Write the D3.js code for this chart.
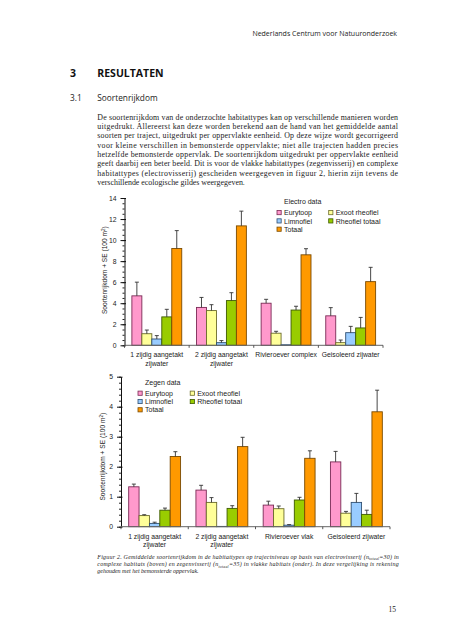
<!DOCTYPE html>
<html><head><meta charset="utf-8">
<script src="https://cdn.jsdelivr.net/npm/d3@7"></script>
<style>html,body{margin:0;padding:0;background:#fff;}svg{display:block;}</style>
</head><body>
<script>
// ---------- DATA ----------
const series = ["Eurytoop", "Exoot rheofiel", "Limnofiel", "Rheofiel totaal", "Totaal"];
const categoriesElectro = [["1 zijdig aangetakt", "zijwater"], ["2 zijdig aangetakt", "zijwater"], ["Rivieroever complex"], ["Geisoleerd zijwater"]];
const categoriesZegen = [["1 zijdig aangetakt", "zijwater"], ["2 zijdig aangetakt", "zijwater"], ["Rivieroever vlak"], ["Geisoleerd zijwater"]];
const electroMean = [
  [4.7, 3.6, 4.0, 2.8],
  [1.1, 3.3, 1.15, 0.25],
  [0.6, 0.25, 0.05, 1.2],
  [2.7, 4.25, 3.35, 1.65],
  [9.2, 11.35, 8.6, 6.05]
];
const electroSE = [
  [1.3, 0.95, 0.37, 0.78],
  [0.35, 0.56, 0.18, 0.25],
  [0.32, 0.2, 0.0, 0.6],
  [0.72, 0.75, 0.36, 1.0],
  [1.7, 1.4, 0.58, 1.36]
];
const zegenMean = [
  [1.33, 1.22, 0.72, 2.16],
  [0.37, 0.81, 0.60, 0.45],
  [0.11, 0.01, 0.05, 0.81],
  [0.55, 0.61, 0.89, 0.41],
  [2.34, 2.67, 2.28, 3.83]
];
const zegenSE = [
  [0.09, 0.16, 0.13, 0.35],
  [0.03, 0.16, 0.09, 0.06],
  [0.04, 0.0, 0.02, 0.30],
  [0.07, 0.09, 0.09, 0.14],
  [0.16, 0.31, 0.25, 0.72]
];
const electroTicks = [0, 2, 4, 6, 8, 10, 12, 14];
const zegenTicks = [0, 1, 2, 3, 4, 5];
const colors = ["#FF99CC", "#FFFF99", "#99CCFF", "#99CC00", "#FF9900"];
const strokes = ["#7a2a55", "#6b6b2a", "#2f4f73", "#3d5a00", "#7a4a00"];

const headerText = "Nederlands Centrum voor Natuuronderzoek";
const paragraph = [
  "De soortenrijkdom van de onderzochte habitattypes kan op verschillende manieren worden",
  "uitgedrukt. Allereerst kan deze worden berekend aan de hand van het gemiddelde aantal",
  "soorten per traject, uitgedrukt per oppervlakte eenheid. Op deze wijze wordt gecorrigeerd",
  "voor kleine verschillen in bemonsterde oppervlakte; niet alle trajecten hadden precies",
  "hetzelfde bemonsterde oppervlak. De soortenrijkdom uitgedrukt per oppervlakte eenheid",
  "geeft daarbij een beter beeld. Dit is voor de vlakke habitattypes (zegenvisserij) en complexe",
  "habitattypes (electrovisserij) gescheiden weergegeven in figuur 2, hierin zijn tevens de",
  "verschillende ecologische gildes weergegeven."
];

// ---------- PAGE ----------
const W = 452, H = 640;
const svg = d3.select("body").append("svg").attr("width", W).attr("height", H);
svg.append("rect").attr("width", W).attr("height", H).attr("fill", "#fff");

const sans = "'Open Sans', 'DejaVu Sans', sans-serif";
const serif = "'Liberation Serif', 'DejaVu Serif', serif";
const arial = "'Liberation Sans', Arial, sans-serif";

svg.append("text").attr("x", 397).attr("y", 36).attr("text-anchor", "end")
  .attr("font-family", sans).attr("font-size", 7).attr("fill", "#222").text(headerText);

svg.append("text").attr("x", 70).attr("y", 77).attr("font-family", sans).attr("font-weight", "bold")
  .attr("font-size", 10.5).attr("fill", "#111").text("3");
svg.append("text").attr("x", 97.3).attr("y", 77).attr("font-family", sans).attr("font-weight", "bold")
  .attr("font-size", 10.5).attr("fill", "#111").text("RESULTATEN");
svg.append("text").attr("x", 70).attr("y", 100.5).attr("font-family", sans)
  .attr("font-size", 8.3).attr("fill", "#222").text("3.1");
svg.append("text").attr("x", 97.3).attr("y", 100.5).attr("font-family", sans)
  .attr("font-size", 8.3).attr("fill", "#222").text("Soortenrijkdom");

paragraph.forEach((line, i) => {
  const t = svg.append("text").attr("x", 97.3).attr("y", 119.5 + i * 9.35)
    .attr("font-family", serif).attr("font-size", 7.9).attr("fill", "#222").text(line);
  if (i < paragraph.length - 1) t.attr("textLength", 300.7).attr("lengthAdjust", "spacing");
});

// ---------- CHART ----------
function drawChart(opt) {
  const g = svg.append("g");
  const x0 = d3.scaleBand().domain(d3.range(opt.categories.length)).range([opt.left, opt.right]);
  const x1 = d3.scaleBand().domain(d3.range(series.length)).range([0, x0.bandwidth()]).paddingOuter(0.74);
  const y = d3.scaleLinear().domain([0, opt.max]).range([opt.bottom, opt.top]);

  // bars
  series.forEach((s, si) => {
    opt.categories.forEach((c, ci) => {
      const v = opt.mean[si][ci], se = opt.se[si][ci];
      const bx = x0(ci) + x1(si);
      g.append("rect").attr("x", bx).attr("y", y(v)).attr("width", x1.bandwidth())
        .attr("height", y(0) - y(v)).attr("fill", colors[si]).attr("stroke", strokes[si]).attr("stroke-width", 0.9);
      if (se > 0) {
        const cx = bx + x1.bandwidth() / 2;
        g.append("line").attr("x1", cx).attr("x2", cx).attr("y1", y(v)).attr("y2", y(v + se))
          .attr("stroke", "#333").attr("stroke-width", 0.9);
        g.append("line").attr("x1", cx - 2).attr("x2", cx + 2).attr("y1", y(v + se)).attr("y2", y(v + se))
          .attr("stroke", "#333").attr("stroke-width", 0.9);
      }
    });
  });

  // y axis
  const minor = d3.range(0, opt.max + 1e-9, opt.minorStep);
  const ay = g.append("g").attr("transform", `translate(${opt.left},0)`)
    .call(d3.axisLeft(y).tickValues(minor).tickSize(2).tickFormat(""));
  ay.select(".domain").remove();
  ay.selectAll("line").attr("stroke", "#222");
  const ay2 = g.append("g").attr("transform", `translate(${opt.left},0)`)
    .call(d3.axisLeft(y).tickValues(opt.ticks).tickFormat(d3.format("d")).tickSizeInner(4).tickSizeOuter(0).tickPadding(4));
  ay2.select(".domain").attr("stroke", "#111").attr("stroke-width", 1);
  ay2.selectAll("line").attr("stroke", "#111");
  ay2.selectAll(".tick line").attr("x1", 1.5);
  ay2.selectAll("text").attr("font-family", arial).attr("font-size", 6.8).attr("fill", "#222");

  // x axis
  const xs = x0.domain().map(d => x0(d)).concat([opt.right]);
  g.append("line").attr("x1", opt.left).attr("x2", opt.right).attr("y1", y(0)).attr("y2", y(0))
    .attr("stroke", "#666").attr("stroke-width", 1);
  xs.forEach(px => {
    g.append("line").attr("x1", px).attr("x2", px).attr("y1", y(0)).attr("y2", y(0) + 2.5)
      .attr("stroke", "#444").attr("stroke-width", 0.9);
  });
  opt.categories.forEach((lines, ci) => {
    const t = g.append("text").attr("x", x0(ci) + x0.bandwidth() / 2).attr("y", y(0) + 12)
      .attr("text-anchor", "middle").attr("font-family", arial).attr("font-size", 6.8).attr("fill", "#222");
    lines.forEach((l, li) => t.append("tspan").attr("x", x0(ci) + x0.bandwidth() / 2).attr("dy", li ? 8.2 : 0).text(l));
  });

  // y title
  const yt = g.append("text").attr("transform", `translate(${opt.titleX},${(opt.top + opt.bottom) / 2 + opt.titleDy}) rotate(-90)`)
    .attr("text-anchor", "middle").attr("font-family", arial).attr("font-size", 6.6).attr("fill", "#222");
  yt.append("tspan").text("Soortenrijkdom + SE (100 m");
  yt.append("tspan").attr("font-size", 4.6).attr("dy", -2.5).text("2");
  yt.append("tspan").attr("dy", 2.5).text(")");

  // legend
  const L = opt.legend;
  g.append("text").attr("x", L.x + 5.5).attr("y", L.y + 2.5).attr("font-family", arial).attr("font-size", 7)
    .attr("fill", "#222").text(L.title);
  series.forEach((s, si) => {
    const col = si === 1 || si === 3 ? 1 : 0;
    const row = si === 0 || si === 1 ? 0 : (si === 2 || si === 3 ? 1 : 2);
    const sx = L.x + col * L.colGap, sy = L.y + 11 + row * 8.3;
    g.append("rect").attr("x", sx - 1.5).attr("y", sy - 2.2).attr("width", 4.2).attr("height", 4.2)
      .attr("fill", colors[si]).attr("stroke", strokes[si]).attr("stroke-width", 0.8);
    g.append("text").attr("x", sx + 5.5).attr("y", sy + 2.5).attr("font-family", arial).attr("font-size", 7)
      .attr("fill", "#222").text(s);
  });
}

drawChart({
  categories: categoriesElectro, mean: electroMean, se: electroSE, ticks: electroTicks,
  max: 14, minorStep: 0.5, left: 124.5, right: 383, top: 198, bottom: 345.3,
  titleX: 107, titleDy: -1.5,
  legend: { title: "Electro data", x: 278.5, y: 201.7, colGap: 51.7 }
});

drawChart({
  categories: categoriesZegen, mean: zegenMean, se: zegenSE, ticks: zegenTicks,
  max: 5, minorStep: 0.2, left: 121, right: 390, top: 376.7, bottom: 526.7,
  titleX: 105, titleDy: 5,
  legend: { title: "Zegen data", x: 139.5, y: 382.3, colGap: 52.2 }
});

// ---------- CAPTION ----------
const cap = svg.append("g").attr("font-family", serif).attr("font-style", "italic").attr("font-size", 6).attr("fill", "#222");
const c1 = cap.append("text").attr("x", 97.3).attr("y", 559).attr("textLength", 301.5).attr("lengthAdjust", "spacing");
c1.append("tspan").text("Figuur 2. Gemiddelde soortenrijkdom in de habitattypes op trajectniveau op basis van electrovisserij (n");
c1.append("tspan").attr("font-size", 3.8).attr("dy", 1.4).text("totaal");
c1.append("tspan").attr("dy", -1.4).text("=30) in");
const c2 = cap.append("text").attr("x", 97.3).attr("y", 566.2).attr("textLength", 301.5).attr("lengthAdjust", "spacing");
c2.append("tspan").text("complexe habitats (boven) en zegenvisserij (n");
c2.append("tspan").attr("font-size", 3.8).attr("dy", 1.4).text("totaal");
c2.append("tspan").attr("dy", -1.4).text("=35) in vlakke habitats (onder). In deze vergelijking is rekening");
cap.append("text").attr("x", 97.3).attr("y", 573.4).text("gehouden met het bemonsterde oppervlak.");

svg.append("text").attr("x", 396).attr("y", 612).attr("text-anchor", "end").attr("font-family", serif)
  .attr("font-size", 7.5).attr("fill", "#222").text("15");
</script>
</body></html>
